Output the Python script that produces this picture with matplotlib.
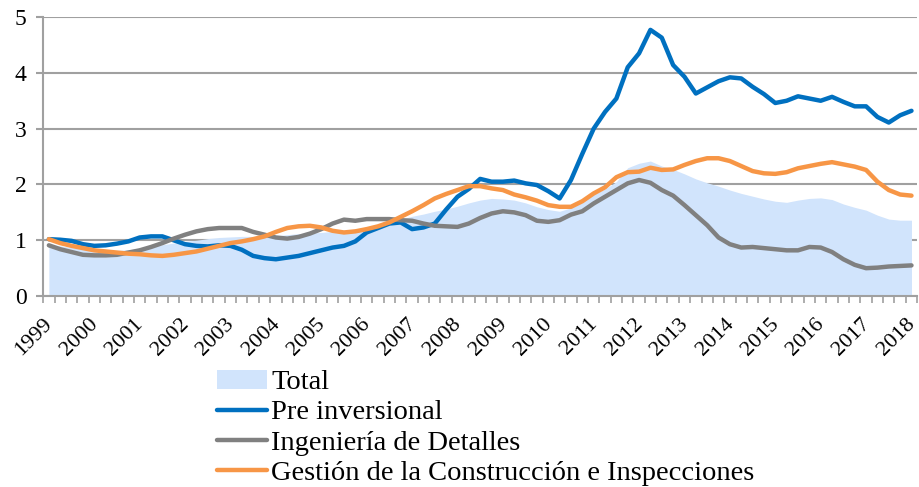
import numpy as np
import matplotlib
matplotlib.use('Agg')
import matplotlib.pyplot as plt
import matplotlib.transforms as mtransforms
from matplotlib.patches import Patch
from matplotlib.lines import Line2D

plt.rcParams['font.family'] = ['Liberation Serif', 'DejaVu Serif']

# trimestres 1999T1 .. 2018T1
years = list(range(1999, 2019))
n = 77

total = [0.93, 0.90, 0.87, 0.85, 0.83, 0.82, 0.82, 0.83, 0.85, 0.88,
         0.92, 0.95, 0.98, 1.00, 1.03, 1.05, 1.06, 1.07, 1.07, 1.07,
         1.08, 1.10, 1.12, 1.13, 1.14, 1.16, 1.18, 1.20, 1.24, 1.28,
         1.33, 1.38, 1.43, 1.47, 1.52, 1.56, 1.61, 1.67, 1.72, 1.75,
         1.74, 1.72, 1.67, 1.60, 1.55, 1.52, 1.58, 1.72, 1.82, 1.92,
         2.05, 2.30, 2.38, 2.42, 2.33, 2.27, 2.19, 2.10, 2.03, 1.97,
         1.90, 1.84, 1.79, 1.74, 1.70, 1.68, 1.72, 1.75, 1.76, 1.73,
         1.65, 1.59, 1.54, 1.45, 1.38, 1.36, 1.36]

pre_inversional = [1.02, 1.01, 0.99, 0.93, 0.90, 0.91, 0.94, 0.98, 1.05, 1.07,
                   1.07, 1.00, 0.93, 0.90, 0.89, 0.91, 0.90, 0.83, 0.72, 0.68,
                   0.66, 0.69, 0.72, 0.77, 0.82, 0.87, 0.90, 0.98, 1.14, 1.22,
                   1.30, 1.32, 1.20, 1.23, 1.30, 1.55, 1.78, 1.92, 2.10, 2.05,
                   2.05, 2.07, 2.02, 1.99, 1.88, 1.75, 2.08, 2.55, 3.00, 3.30,
                   3.54, 4.10, 4.35, 4.77, 4.63, 4.14, 3.93, 3.63, 3.74, 3.85,
                   3.92, 3.90, 3.75, 3.62, 3.46, 3.50, 3.58, 3.54, 3.50, 3.57,
                   3.48, 3.40, 3.40, 3.21, 3.11, 3.24, 3.32]

ingenieria = [0.91, 0.84, 0.79, 0.74, 0.73, 0.73, 0.74, 0.78, 0.82, 0.88,
              0.95, 1.03, 1.10, 1.16, 1.20, 1.22, 1.22, 1.22, 1.15, 1.10,
              1.05, 1.03, 1.06, 1.12, 1.20, 1.30, 1.37, 1.35, 1.38, 1.38,
              1.38, 1.36, 1.35, 1.30, 1.26, 1.25, 1.24, 1.30, 1.40, 1.48,
              1.52, 1.50, 1.45, 1.35, 1.33, 1.36, 1.46, 1.52, 1.66, 1.78,
              1.90, 2.02, 2.08, 2.03, 1.90, 1.80, 1.63, 1.45, 1.27, 1.05,
              0.93, 0.87, 0.88, 0.86, 0.84, 0.82, 0.82, 0.88, 0.87, 0.79,
              0.66, 0.56, 0.50, 0.51, 0.53, 0.54, 0.55]

gestion = [1.02, 0.95, 0.90, 0.86, 0.82, 0.80, 0.78, 0.76, 0.75, 0.73,
           0.72, 0.74, 0.77, 0.80, 0.85, 0.90, 0.95, 0.98, 1.02, 1.07,
           1.15, 1.22, 1.25, 1.26, 1.23, 1.17, 1.14, 1.16, 1.20, 1.25,
           1.32, 1.42, 1.52, 1.63, 1.75, 1.83, 1.90, 1.97, 1.97, 1.93,
           1.90, 1.82, 1.77, 1.71, 1.63, 1.60, 1.60, 1.70, 1.84, 1.95,
           2.13, 2.22, 2.23, 2.30, 2.26, 2.27, 2.35, 2.42, 2.47, 2.47,
           2.42, 2.33, 2.24, 2.20, 2.19, 2.22, 2.29, 2.33, 2.37, 2.40,
           2.36, 2.32, 2.26, 2.05, 1.90, 1.82, 1.80]

labels = ['Total', 'Pre inversional', 'Ingeniería de Detalles',
          'Gestión de la Construcción e Inspecciones']

c_area = '#D1E4FC'
c_blue = '#0070C0'
c_grey = '#808080'
c_orange = '#F79646'
c_axis = '#A0A0A0'

x = np.arange(n)

fig = plt.figure(figsize=(9.19, 4.87), dpi=100)
ax = fig.add_axes([0.047, 0.392, 0.951, 0.573])

ax.fill_between(x, 0, total, color=c_area, lw=0, zorder=2)
ax.plot(x, pre_inversional, color=c_blue, lw=3.2, zorder=3, solid_capstyle='round')
ax.plot(x, ingenieria, color=c_grey, lw=3.2, zorder=4, solid_capstyle='round')
ax.plot(x, gestion, color=c_orange, lw=3.2, zorder=5, solid_capstyle='round')

ax.set_xlim(-0.5, n - 0.5)
ax.set_ylim(0, 5)
ax.set_yticks(range(6))
ax.yaxis.grid(True, color=c_axis, lw=1.5, zorder=1)
ax.set_axisbelow(True)

for s in ['top', 'right']:
    ax.spines[s].set_visible(False)
for s in ['left', 'bottom']:
    ax.spines[s].set_color(c_axis)
    ax.spines[s].set_linewidth(1.5)

ax.tick_params(axis='y', length=5, width=1.5, color=c_axis, pad=7, labelsize=17)
ax.set_xticks(x[::4])
ax.set_xticklabels([str(y) for y in years], rotation=45, ha='right', va='center',
                   rotation_mode='anchor', fontsize=16)
ax.tick_params(axis='x', which='major', length=0, pad=18)
ax.set_xticks(np.arange(-0.5, n, 1), minor=True)
ax.tick_params(axis='x', which='minor', length=5, width=1.2, color=c_axis)
shift = mtransforms.ScaledTranslation(1 / 100, 0, fig.dpi_scale_trans)
for lab in ax.get_xticklabels():
    lab.set_transform(lab.get_transform() + shift)

handles = [Patch(facecolor=c_area, edgecolor='none'),
           Line2D([], [], color=c_blue, lw=3.2, solid_capstyle='round'),
           Line2D([], [], color=c_grey, lw=3.2, solid_capstyle='round'),
           Line2D([], [], color=c_orange, lw=3.2, solid_capstyle='round')]
fig.legend(handles, labels, loc='upper left', bbox_to_anchor=(0.236, 0.241),
           frameon=False, fontsize=20.5, handlelength=1.75, handletextpad=0.15,
           labelspacing=0.17, borderpad=0, borderaxespad=0, handleheight=0.65)

fig.savefig('out.png', dpi=100)
